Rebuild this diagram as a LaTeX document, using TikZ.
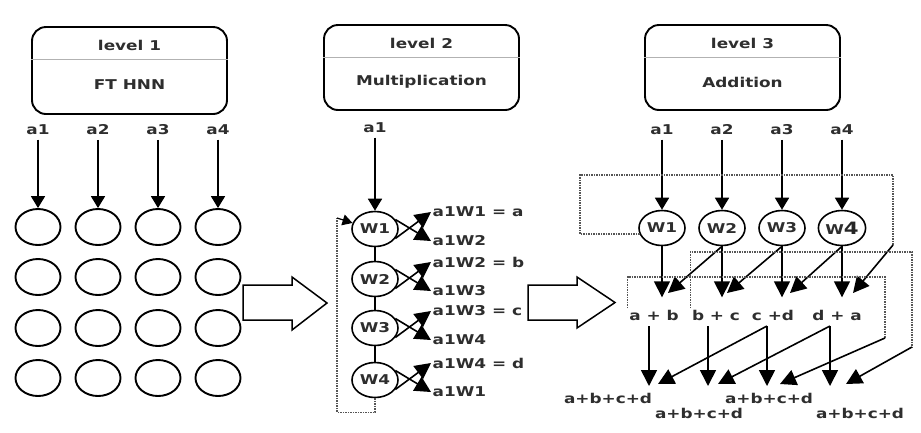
\documentclass[tikz,border=0pt]{standalone}
\usepackage{fontspec}
\setmainfont{DejaVu Sans}[FakeStretch=1.25]
\usetikzlibrary{arrows.meta,shapes.geometric}
\definecolor{txt}{HTML}{2E2E2E}
\definecolor{dotgray}{HTML}{555555}
\newcommand\bigfour{W{\fontsize{17}{17}\selectfont\color{black!85}4}}
\begin{document}
\begin{tikzpicture}[x=1pt,y=-1pt,
  font=\fontsize{13.5}{15}\selectfont\bfseries, text=txt,
  lab/.style={inner sep=1.5pt},
  cell/.style={ellipse, draw, line width=1.9pt, minimum width=45pt, minimum height=36pt, inner sep=0pt},
  wnode/.style={ellipse, draw, line width=1.6pt, minimum width=46pt, minimum height=35pt, inner sep=0pt},
  arr/.style={line width=1.8pt, shorten <=3pt, -{Triangle[length=12pt,width=14pt]}},
  bigarr/.style={line width=1.6pt, -{Triangle[length=16pt,width=16pt]}},
  smallarr/.style={line width=1.2pt, -{Triangle[length=10pt,width=11pt]}},
  dotline/.style={line width=1.5pt, densely dotted, draw=dotgray},
  lvlbox/.style={draw, line width=1.9pt, rounded corners=14pt, minimum width=195pt, minimum height=85pt},
  divider/.style={draw=gray!60, line width=0.9pt},
  fatarrow/.style={draw, line width=1.5pt, fill=white}]
\fill[white] (0,0) rectangle (921,432);

% ---------------- level 1
\node[lvlbox, minimum height=87pt] (box1) at (129.5,70.5) {};
\draw[divider] (box1.west |- 0,59) -- (box1.east |- 0,59);
\node (h1) at (129.5,45) {level 1};
\node (g1) at (129.5,85) {FT HNN};
\foreach \c [count=\i] in {38,98,158,218}{
  \node[lab] (p\i) at (\c,130) {a\i};
  \foreach \r [count=\j] in {227,277,328,378}
    \node[cell] (c\i\j) at (\c,\r) {};
  \draw[arr] (p\i) -- (c\i1);
}
\draw[fatarrow] (243,285) -- (292,285) -- (292,277) -- (327,303) -- (292,330) -- (292,320) -- (243,320) -- cycle;

% ---------------- level 2
\node[lvlbox] (box2) at (421.5,67.5) {};
\draw[divider] (box2.west |- 0,57) -- (box2.east |- 0,57);
\node (h2) at (421.5,43) {level 2};
\node (g2) at (421.5,82) {Multiplication};
\node[lab] (q1) at (375,128) {a1};
\foreach \y/\i/\l/\n in {229/1/a/2, 279/2/b/3, 328/3/c/4, 380/4/d/1}{
  \node[wnode] (M\i) at (375,\y) {W\i};
  \node[lab, anchor=west] (u\i) at (431,\y-17) {a1W\i{} = \l};
  \node[lab, anchor=west] (d\i) at (431,\y+12) {a1W\n};
  \draw[bigarr] (M\i.-25) -- (u\i.west);
  \draw[bigarr] (M\i.25) -- (d\i.west);
}
\draw[arr] (q1) -- (M1);
\draw[line width=1.6pt] (M1) -- (M2) (M2) -- (M3) (M3) -- (M4);
\coordinate (lp) at (337,218);
\draw[dotline] (M4.south) -- ++(0,14) -| (lp);
\draw[smallarr] (lp) -- (M1.165);
\draw[fatarrow] (528,285) -- (577,285) -- (577,277) -- (615,302.5) -- (577,328) -- (577,320) -- (528,320) -- cycle;

% ---------------- level 3
\node[lvlbox] (box3) at (742.5,67.5) {};
\draw[divider] (box3.west |- 0,57) -- (box3.east |- 0,57);
\node (h3) at (742.5,43) {level 3};
\node (g3) at (742.5,82) {Addition};
\foreach \c/\t [count=\i] in {662/W1,722/W2,782/W3,842/\bigfour}{
  \node[lab] (r\i) at (\c,130) {a\i};
  \node[wnode] (A\i) at (\c,228) {\t};
  \draw[arr] (r\i) -- (A\i);
  \draw[bigarr] (A\i.south) -- ++(0,51);
}
\node[lab] (s1) at (654,315) {a + b};
\node[lab] (s2) at (716,315) {b + c};
\node[lab] (s3) at (773,315) {c +d};
\node[lab] (s4) at (837,315) {d + a};

\coordinate (t1) at (668,293);
\coordinate (t2) at (727,293);
\coordinate (t3) at (790,293);
\coordinate (t4) at (853,293);
\draw[bigarr] (A2.south) -- (t1);
\draw[bigarr] (A3.south) -- (t2);
\draw[bigarr] (A4.south) -- (t3);

\coordinate (k1) at (580,175);
\coordinate (k2) at (893,175);
\coordinate (k3) at (893,245);
\draw[dotline] (A1.195) -| (k1) -- (k2) -- (k3);
\draw[bigarr] (k3) -- (t4);

\coordinate (pa) at (885,338);
\coordinate (pb) at (912,347);
\draw[dotline] (s1.north west) |- (885,277) -- (pa);
\draw[dotline] (s2.north west) |- (912,252) -- (pb);

\node[lab] (z1) at (608,398) {a+b+c+d};
\node[lab] (z2) at (699,413) {a+b+c+d};
\node[lab] (z3) at (769,398) {a+b+c+d};
\node[lab] (z4) at (860,413) {a+b+c+d};

\coordinate (f1) at (649,326);
\coordinate (f2) at (708,326);
\coordinate (f3) at (767,326);
\coordinate (f4) at (830,326);
\coordinate (e1) at (649,386);
\coordinate (e1d) at (658,384);
\coordinate (e2) at (708,386);
\coordinate (e2d) at (718,384);
\coordinate (e3) at (767,386);
\coordinate (e3d) at (780,384);
\coordinate (e4) at (830,386);
\coordinate (e4d) at (846,384);
\draw[bigarr] (f1) -- (e1);
\draw[bigarr] (f3) -- (e1d);
\draw[bigarr] (f2) -- (e2);
\draw[bigarr] (f4) -- (e2d);
\draw[bigarr] (f3) -- (e3);
\draw[bigarr] (pa) -- (e3d);
\draw[bigarr] (f4) -- (e4);
\draw[bigarr] (pb) -- (e4d);
\end{tikzpicture}
\end{document}
